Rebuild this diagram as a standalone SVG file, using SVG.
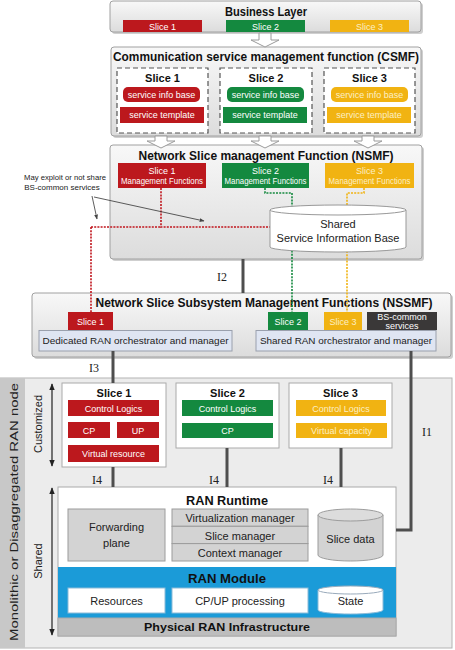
<svg xmlns="http://www.w3.org/2000/svg" width="455" height="650" viewBox="0 0 455 650">
<defs>
<linearGradient id="panel" x1="0" y1="0" x2="0" y2="1"><stop offset="0" stop-color="#f8f8f8"/><stop offset="1" stop-color="#dcdcdc"/></linearGradient>
<marker id="ah" viewBox="0 0 10 10" refX="9" refY="5" markerWidth="6" markerHeight="6" orient="auto-start-reverse"><path d="M0,1 L10,5 L0,9 Z" fill="#222"/></marker>
<marker id="ah2" viewBox="0 0 10 10" refX="9" refY="5" markerWidth="6" markerHeight="6" orient="auto-start-reverse"><path d="M0,1 L10,5 L0,9 Z" fill="#444"/></marker>
<style>
.panel{fill:url(#panel);stroke:#a0a0a0;stroke-width:1}
.shadow{fill:#cfcfcf}
.title{font-family:"Liberation Sans",Arial,sans-serif;font-weight:bold;font-size:12.5px;fill:#111;text-anchor:middle}
.sub{font-family:"Liberation Sans",Arial,sans-serif;font-weight:bold;font-size:11px;fill:#111;text-anchor:middle}
.red{fill:#bc181d}
.green{fill:#14893f}
.yellow{fill:#f1b312}
.wt{font-family:"Liberation Sans",Arial,sans-serif;font-size:9px;fill:#fff;text-anchor:middle}
.yt{font-family:"Liberation Sans",Arial,sans-serif;font-size:9px;fill:#fcefc4;text-anchor:middle}
.dash{fill:#fff;stroke:#555;stroke-width:1.2;stroke-dasharray:5 3}
.blk{fill:#fff;stroke:#9a9a9a;stroke-width:1}
.gbox{fill:#d3d3d3;stroke:#9c9c9c;stroke-width:1}
.gt{font-family:"Liberation Sans",Arial,sans-serif;font-size:11px;fill:#222;text-anchor:middle}
.bt{font-family:"Liberation Sans",Arial,sans-serif;font-size:9.5px;fill:#222;text-anchor:middle}
.orch{fill:#dfe5f2;stroke:#9aa0ad;stroke-width:1}
.iface{fill:none;stroke:#4e4e4e;stroke-width:3}
.il{font-family:"Liberation Serif","Times New Roman",serif;font-size:12px;fill:#222;text-anchor:middle}
.dot{fill:none;stroke-width:1.6;stroke-dasharray:2 1.2}
.ann{font-family:"Liberation Sans",Arial,sans-serif;font-size:8px;fill:#222;text-anchor:middle}
.side{font-family:"Liberation Sans",Arial,sans-serif;font-size:11px;fill:#222;text-anchor:middle}
</style>
</defs>
<rect width="455" height="650" fill="#fff"/>

<g id="business-layer">
<rect class="shadow" x="112" y="3" width="311" height="31" rx="3"/>
<rect class="panel" x="110" y="1" width="311" height="31" rx="3"/>
<text class="title" x="266" y="16" textLength="82" lengthAdjust="spacingAndGlyphs">Business Layer</text>
<rect class="red" x="123" y="20" width="79" height="12"/>
<text class="wt" x="162.5" y="29.5">Slice 1</text>
<rect class="green" x="226" y="20" width="79" height="12"/>
<text class="wt" x="265.5" y="29.5">Slice 2</text>
<rect class="yellow" x="330" y="20" width="79" height="12"/>
<text class="yt" x="369.5" y="29.5">Slice 3</text>
</g>

<g id="csmf">
<rect class="shadow" x="113" y="49" width="310" height="89" rx="3"/>
<rect class="panel" x="111" y="47" width="310" height="89" rx="3"/>
<text class="title" x="266" y="61" textLength="306" lengthAdjust="spacingAndGlyphs">Communication service management function (CSMF)</text>
<rect class="dash" x="117" y="68" width="91" height="65"/>
<rect class="dash" x="220" y="68" width="92" height="65"/>
<rect class="dash" x="324" y="68" width="91" height="65"/>
<text class="sub" x="162.5" y="82">Slice 1</text>
<text class="sub" x="266" y="82">Slice 2</text>
<text class="sub" x="369.5" y="82">Slice 3</text>
<rect class="red" x="123" y="87" width="77" height="15" rx="5"/>
<text class="wt" x="161.5" y="97.5">service info base</text>
<rect class="green" x="227" y="87" width="77" height="15" rx="5"/>
<text class="wt" x="265.5" y="97.5">service info base</text>
<rect class="yellow" x="331" y="87" width="77" height="15" rx="5"/>
<text class="yt" x="369.5" y="97.5">service info base</text>
<rect class="red" x="120" y="107" width="84" height="16"/>
<text class="wt" x="162" y="118">service template</text>
<rect class="green" x="223" y="107" width="84" height="16"/>
<text class="wt" x="265" y="118">service template</text>
<rect class="yellow" x="327" y="107" width="84" height="16"/>
<text class="yt" x="369" y="118">service template</text>
</g>

<g id="nsmf">
<rect class="shadow" x="112" y="147" width="312" height="114" rx="3"/>
<rect class="panel" x="110" y="145" width="312" height="114" rx="3"/>
<text class="title" x="266" y="159.5" textLength="255" lengthAdjust="spacingAndGlyphs">Network Slice management Function (NSMF)</text>
<rect class="red" x="118" y="163" width="88" height="25"/>
<text class="wt" x="162" y="173.5" font-size="8">Slice 1</text>
<text class="wt" x="162" y="184" font-size="8" textLength="82" lengthAdjust="spacingAndGlyphs">Management Functions</text>
<rect class="green" x="222" y="163" width="87" height="25"/>
<text class="wt" x="265.5" y="173.5" font-size="8">Slice 2</text>
<text class="wt" x="265.5" y="184" font-size="8" textLength="82" lengthAdjust="spacingAndGlyphs">Management Functions</text>
<rect class="yellow" x="325" y="163" width="89" height="25"/>
<text class="yt" x="369.5" y="173.5" font-size="8">Slice 3</text>
<text class="yt" x="369.5" y="184" font-size="8" textLength="82" lengthAdjust="spacingAndGlyphs">Management Functions</text>
</g>

<g id="nssmf">
<rect class="shadow" x="34" y="295" width="419" height="64" rx="3"/>
<rect class="panel" x="32" y="293" width="419" height="64" rx="3"/>
<text class="title" x="264" y="307" textLength="337" lengthAdjust="spacingAndGlyphs">Network Slice Subsystem Management Functions (NSSMF)</text>
<rect class="red" x="68" y="312" width="45" height="18"/>
<text class="wt" x="90.5" y="324.5" font-size="9.5">Slice 1</text>
<rect class="orch" x="39" y="330.5" width="193" height="20.5"/>
<text class="bt" x="135.5" y="344" textLength="186" lengthAdjust="spacingAndGlyphs">Dedicated RAN orchestrator and manager</text>
<rect class="green" x="268" y="312" width="40" height="18"/>
<text class="wt" x="288" y="324.5" font-size="9.5">Slice 2</text>
<rect class="yellow" x="324" y="312" width="38" height="18"/>
<text class="yt" x="343" y="324.5" font-size="9.5">Slice 3</text>
<rect x="367" y="312" width="70" height="18" fill="#3a3838"/>
<text class="wt" x="402" y="320" font-size="7.5" fill="#ddd">BS-common</text>
<text class="wt" x="402" y="328.5" font-size="7.5" fill="#ddd">services</text>
<rect class="orch" x="256" y="330.5" width="180" height="20.5"/>
<text class="bt" x="346" y="344" textLength="172" lengthAdjust="spacingAndGlyphs">Shared RAN orchestrator and manager</text>
</g>

<g id="ran-node">
<rect x="0" y="378" width="452" height="270" fill="#ececec" stroke="#b4b4b4"/>
<rect x="0" y="378" width="25" height="270" fill="#c8c8c8"/>
<text class="side" font-size="14" transform="translate(18,512) rotate(-90)" textLength="258" lengthAdjust="spacingAndGlyphs">Monolithic or Disaggregated RAN node</text>
<line x1="52" y1="384" x2="52" y2="466" stroke="#222" stroke-width="1.2" marker-start="url(#ah)" marker-end="url(#ah)"/>
<text class="side" transform="translate(42,424) rotate(-90)">Customized</text>
<line x1="52" y1="488" x2="52" y2="635" stroke="#222" stroke-width="1.2" marker-start="url(#ah)" marker-end="url(#ah)"/>
<text class="side" transform="translate(42,561) rotate(-90)">Shared</text>
</g>

<g id="ran-slice-1">
<rect x="62" y="383" width="104" height="84" fill="#fff" stroke="#aaa"/>
<text class="sub" x="114" y="397">Slice 1</text>
<rect class="red" x="68" y="400" width="91" height="16"/>
<text class="wt" x="113.5" y="411.5" font-size="9.5">Control Logics</text>
<rect class="red" x="68" y="422" width="42" height="16"/>
<text class="wt" x="89" y="433.5" font-size="9.5">CP</text>
<rect class="red" x="117" y="422" width="42" height="16"/>
<text class="wt" x="138" y="433.5" font-size="9.5">UP</text>
<rect class="red" x="68" y="445" width="91" height="17"/>
<text class="wt" x="113.5" y="456.5" font-size="9.5">Virtual resource</text>
</g>

<g id="ran-slice-2">
<rect x="176" y="383" width="103" height="65" fill="#fff" stroke="#aaa"/>
<text class="sub" x="227.5" y="397">Slice 2</text>
<rect class="green" x="182" y="400" width="91" height="16"/>
<text class="wt" x="227.5" y="411.5" font-size="9.5">Control Logics</text>
<rect class="green" x="182" y="423" width="91" height="15"/>
<text class="wt" x="227.5" y="434" font-size="9.5">CP</text>
</g>

<g id="ran-slice-3">
<rect x="289" y="383" width="103" height="65" fill="#fff" stroke="#aaa"/>
<text class="sub" x="340.5" y="397">Slice 3</text>
<rect class="yellow" x="296" y="400" width="90" height="16"/>
<text class="yt" x="341" y="411.5" font-size="9.5">Control Logics</text>
<rect class="yellow" x="296" y="423" width="91" height="15"/>
<text class="yt" x="341.5" y="434" font-size="9.5">Virtual capacity</text>
</g>

<g id="ran-runtime">
<rect x="58" y="487" width="338" height="149" fill="#fff" stroke="#aaa"/>
<text class="title" x="227" y="505" textLength="82" lengthAdjust="spacingAndGlyphs">RAN Runtime</text>
<rect class="gbox" x="68" y="509" width="97" height="52"/>
<text class="gt" x="116.5" y="531" font-size="12">Forwarding</text>
<text class="gt" x="116.5" y="547" font-size="12">plane</text>
<rect class="gbox" x="172" y="509" width="136" height="17.3"/>
<rect class="gbox" x="172" y="526.3" width="136" height="17.3"/>
<rect class="gbox" x="172" y="543.6" width="136" height="17.4"/>
<text class="gt" x="240" y="522" font-size="11.5">Virtualization manager</text>
<text class="gt" x="240" y="539.5" font-size="11.5">Slice manager</text>
<text class="gt" x="240" y="557" font-size="11.5">Context manager</text>
<path d="M318,515 V555 A32.5,6 0 0 0 383,555 V515 Z" fill="#d3d3d3" stroke="#9c9c9c"/>
<ellipse cx="350.5" cy="515" rx="32.5" ry="6" fill="#dcdcdc" stroke="#9c9c9c"/>
<text class="gt" x="350.5" y="543" font-size="11.5">Slice data</text>
</g>

<g id="ran-module">
<rect x="58" y="567" width="338" height="51" fill="#1b9bd8"/>
<text class="title" x="227" y="582.5" fill="#0c2a48" textLength="78" lengthAdjust="spacingAndGlyphs">RAN Module</text>
<rect x="68" y="588" width="97" height="25" fill="#fff" stroke="#8bbbd8"/>
<text class="gt" x="116.5" y="605" font-size="11.5">Resources</text>
<rect x="172" y="588" width="136" height="25" fill="#fff" stroke="#8bbbd8"/>
<text class="gt" x="240" y="605" font-size="11.5">CP/UP processing</text>
<path d="M318,590 V610 A32.5,4 0 0 0 383,610 V590 Z" fill="#fff" stroke="#8bbbd8"/>
<ellipse cx="350.5" cy="590" rx="32.5" ry="4" fill="#fff" stroke="#9ab"/>
<text class="gt" x="350.5" y="605" font-size="11.5">State</text>
</g>

<g id="physical-ran">
<rect x="58" y="618" width="338" height="18" fill="#bdbdbd" stroke="#aaa"/>
<text class="sub" x="227" y="631" textLength="166" lengthAdjust="spacingAndGlyphs">Physical RAN Infrastructure</text>
</g>

<g id="connectors">
<path d="M259,33 H271 V40 H279 L265,47 L251,40 H259 Z" class="blk"/>
<path d="M155,136 H167 V141 H175 L161,148 L147,141 H155 Z" class="blk"/>
<path d="M259,136 H271 V141 H279 L265,148 L251,141 H259 Z" class="blk"/>
<path d="M362,136 H374 V141 H382 L368,148 L354,141 H362 Z" class="blk"/>
<path class="dot" stroke="#c0141c" d="M161,188 V227 H270 M91,227 H161 M91,227 V312"/>
<path class="dot" stroke="#14893f" d="M265,188 V193 H292 V312"/>
<path class="dot" stroke="#f1b312" d="M364,188 V193 H347 V312"/>
<line x1="92" y1="196" x2="97" y2="219" stroke="#333" stroke-width="0.8" marker-end="url(#ah2)"/>
<line x1="94" y1="197" x2="204" y2="221" stroke="#333" stroke-width="0.8" marker-end="url(#ah2)"/>
<line class="iface" x1="243" y1="259" x2="243" y2="293"/>
<line class="iface" x1="113" y1="351" x2="113" y2="383"/>
<path class="iface" d="M411,351 V530 H396"/>
<line class="iface" x1="113" y1="467" x2="113" y2="487"/>
<line class="iface" x1="227" y1="448" x2="227" y2="487"/>
<line class="iface" x1="341" y1="448" x2="341" y2="487"/>
<text class="il" x="222" y="281">I2</text>
<text class="il" x="94" y="372">I3</text>
<text class="il" x="427" y="436">I1</text>
<text class="il" x="97" y="484">I4</text>
<text class="il" x="214" y="484">I4</text>
<text class="il" x="328" y="484">I4</text>
</g>

<g id="shared-sib">
<path d="M270,210 V247 A68,5 0 0 0 406,247 V210 Z" fill="#fff" stroke="#999"/>
<ellipse cx="338" cy="210" rx="68" ry="5" fill="#fff" stroke="#999"/>
<text class="gt" x="338" y="228" font-size="10">Shared</text>
<text class="gt" x="338" y="242" font-size="10">Service Information Base</text>
</g>

<g id="annotation">
<text class="ann" x="65" y="180" textLength="82" lengthAdjust="spacingAndGlyphs">May exploit or not share</text>
<text class="ann" x="62" y="190">BS-common services</text>
</g>
</svg>
